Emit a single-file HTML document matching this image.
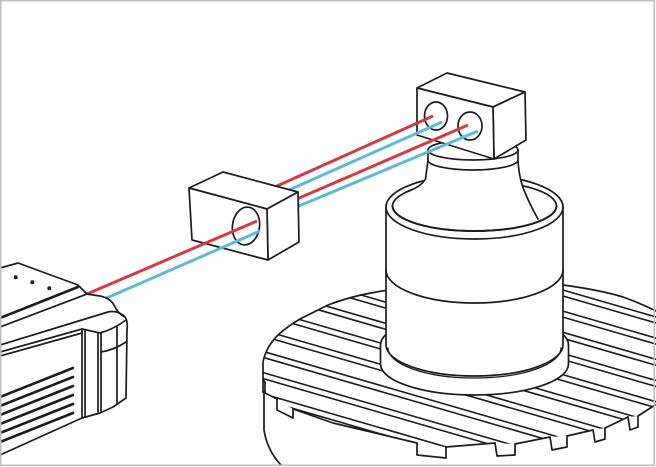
<!DOCTYPE html>
<html><head><meta charset="utf-8"><style>
html,body{margin:0;padding:0;background:#fff;overflow:hidden;}
svg{display:block;}
</style></head><body>
<svg width="656" height="467" viewBox="0 0 656 467" xmlns="http://www.w3.org/2000/svg">
<defs>
<clipPath id="top">
<path d="M263,392 L263,362 Q266,347 278,335 Q288,326 300,319 L328,305 Q344,299 361,295 Q420,283 470,282 Q530,281 563,285 Q600,290 623,297 Q640,303 656,311 L656,404 L655,405 L638,416 L628,417 L605,428 L593,430 L567,436 L550,437 L515,444 L495,443 L446,447 L417,443 L333,423 L293,409 L277,399 Z"/>
</clipPath>
</defs>
<rect x="0" y="0" width="656" height="467" fill="#fff"/>

<g stroke="#1c1c1c" stroke-width="1.7" fill="none" stroke-linejoin="round" stroke-linecap="round">
<!-- TABLE slots -->
<g clip-path="url(#top)" stroke-width="1.6">
<path d="M250,199.2 L656,317 M250,205.2 L656,323"/>
<path d="M250,220.4 L656,338.1 M250,226.4 L656,344.1"/>
<path d="M250,241.6 L656,359.3 M250,247.6 L656,365.3"/>
<path d="M250,262.8 L656,380.5 M250,268.8 L656,386.5"/>
<path d="M250,284 L656,401.7 M250,290 L656,407.7"/>
<path d="M250,305.2 L656,422.9 M250,311.2 L656,428.9"/>
<path d="M250,326.4 L656,444.1 M250,332.4 L656,450.1"/>
<path d="M250,347.6 L637,459.8 M250,353.6 L616,459.7"/>
<path d="M250,368.8 L564,459.9 M250,374.8 L543,459.8"/>
<path d="M250,390 L491,459.9 M250,396 L470,459.8"/>
</g>
<!-- table back edge -->
<path d="M263,392 L263,362 Q266,347 278,335 Q288,326 300,319 L328,305 Q344,299 361,295 Q420,283 470,282 Q530,281 563,285 Q600,290 623,297 Q640,303 656,311"/>
<!-- front edge -->
<path d="M263,392 L277,399 M293,409 L333,423 L417,443 M446,447 L495,443 M515,444 L550,437 M567,436 L593,430 M605,428 L628,417 M638,416 L655,405"/>
<!-- notches -->
<path d="M277,399 L277,410 L293,418 L293,409"/>
<path d="M417,443 L417,455 L446,458 L446,447"/>
<path d="M495,443 L497,456 L515,455 L515,444"/>
<path d="M550,437 L552,450 L567,447 L567,436"/>
<path d="M593,430 L595,442 L605,439 L605,428"/>
<path d="M628,417 L630,430 L638,427 L638,416"/>
<!-- base -->
<path d="M263,380 L265,382 L265,392 M264,392 L264,430 Q267,450 281,465"/>

<!-- FLANGE -->
<path d="M380.5,345 L380.5,364 A94,31 0 0 0 568.5,364 L568.5,345 A94,31 0 0 0 380.5,345 Z" fill="#fff"/>
<!-- CYLINDER -->
<path d="M386,207 L386,345 A88.5,31 0 0 0 563,345 L563,207 A88.5,32 0 0 0 386,207 Z" fill="#fff"/>
<path d="M388,348 A86.5,30 0 0 0 561,348" stroke-width="1.3"/>
<path d="M386,270 A88.5,33 0 0 0 563,270"/>
<ellipse cx="474.5" cy="207" rx="88.5" ry="32" fill="#fff"/>
<ellipse cx="474.5" cy="206" rx="82" ry="25"/>
<!-- NECK -->
<path d="M427,146 L518,146 L518,160 Q519,178 524,190 Q530,205 538,219 L520,228 L430,228 L405,195 Q421,186 425,178 L427,160 Z" fill="#fff" stroke="none"/>
<path d="M392.5,206 A82,25 0 0 0 556.5,206" stroke-width="2"/>
<path d="M428,160 L425.5,179 Q421,187 406,192"/>
<path d="M518,160 Q519,178 524,190 Q530,205 538,219"/>
<path d="M428,150 L428,160 A45,10 0 0 0 518,160 L518,150 A45,10 0 0 0 428,150 Z" fill="#fff"/>
<path d="M428,150 A45,10 0 0 0 518,150"/>

<!-- TOP BLOCK -->
<path d="M417,88 L447,73 L525,92 L493,107 Z" fill="#fff"/>
<path d="M493,107 L525,92 L526,140 L494,159 Z" fill="#fff"/>
<path d="M417,88 L493,107 L494,159 L417,135 Z" fill="#fff"/>
<ellipse cx="436" cy="116" rx="11.5" ry="14"/>
<ellipse cx="470" cy="126" rx="12" ry="14"/>
</g>

<!-- upper lasers -->
<g stroke-width="3" fill="none">
<path d="M270,189.1 L433,116" stroke="#d63a3e"/>
<path d="M282,193.1 L442,122" stroke="#5fb7de"/>
<path d="M290,202 L468,125" stroke="#d63a3e"/>
<path d="M290,209.8 L478,131" stroke="#5fb7de"/>
</g>

<!-- MIDDLE BLOCK -->
<g stroke="#1c1c1c" stroke-width="1.7" fill="#fff" stroke-linejoin="round">
<path d="M189,188 L223,172 L298,192 L267,209 Z"/>
<path d="M298,192 L299,242 L268,260 L267,209 Z"/>
<path d="M189,188 L267,209 L268,260 L192,240 Z"/>
<ellipse cx="246" cy="226" rx="13.5" ry="19" transform="rotate(8 246 226)"/>
</g>

<!-- lower lasers -->
<g stroke-width="3" fill="none">
<path d="M87,294 L257,221" stroke="#d63a3e"/>
<path d="M102,300 L260,231" stroke="#5fb7de"/>
</g>

<!-- DEVICE -->
<g stroke="#1c1c1c" stroke-width="1.7" fill="#fff" stroke-linejoin="round" stroke-linecap="round">
<path d="M0,327 L87,294 L100,296 Q110,298 114,305 Q118,314 125,317 Q128,321 127,330 L126,398 L113,407 L100,413 L82,418 L0,455 Z"/>
<path d="M0,268 L18,263 L78,285 L83,290 L87,294 L0,327 Z"/>
<path d="M0,318 L78,287" stroke-width="2.6" fill="none"/>
<circle cx="15.7" cy="277.3" r="2" fill="#1c1c1c" stroke="none"/>
<circle cx="32.3" cy="282.3" r="2" fill="#1c1c1c" stroke="none"/>
<circle cx="49.3" cy="288.3" r="2" fill="#1c1c1c" stroke="none"/>
<g fill="none">
<path d="M0,345 L108,312 Q117,310 124,316"/>
<path d="M0,352 L82,329 L100,333 Q114,329 126,320"/>
<path d="M0,356 L82,333"/>
<path d="M82,329 L82,418 M85,331 L85,417 M98,333 L98,412 M101,333 L101,411 M117,327 L117,404"/>
<path d="M101,352 Q114,350 126,342"/>
<g stroke-width="2.6">
<path d="M0,397 L73,368"/>
<path d="M0,406 L73,377"/>
<path d="M0,415 L73,386"/>
<path d="M0,424 L73,395"/>
<path d="M0,433 L73,404"/>
<path d="M0,442 L73,413"/>
</g>
</g>
</g>

<!-- frame -->
<rect x="0.75" y="0.75" width="653.5" height="464.5" fill="none" stroke="#bdbdbd" stroke-width="1.5"/>
</svg>
</body></html>
